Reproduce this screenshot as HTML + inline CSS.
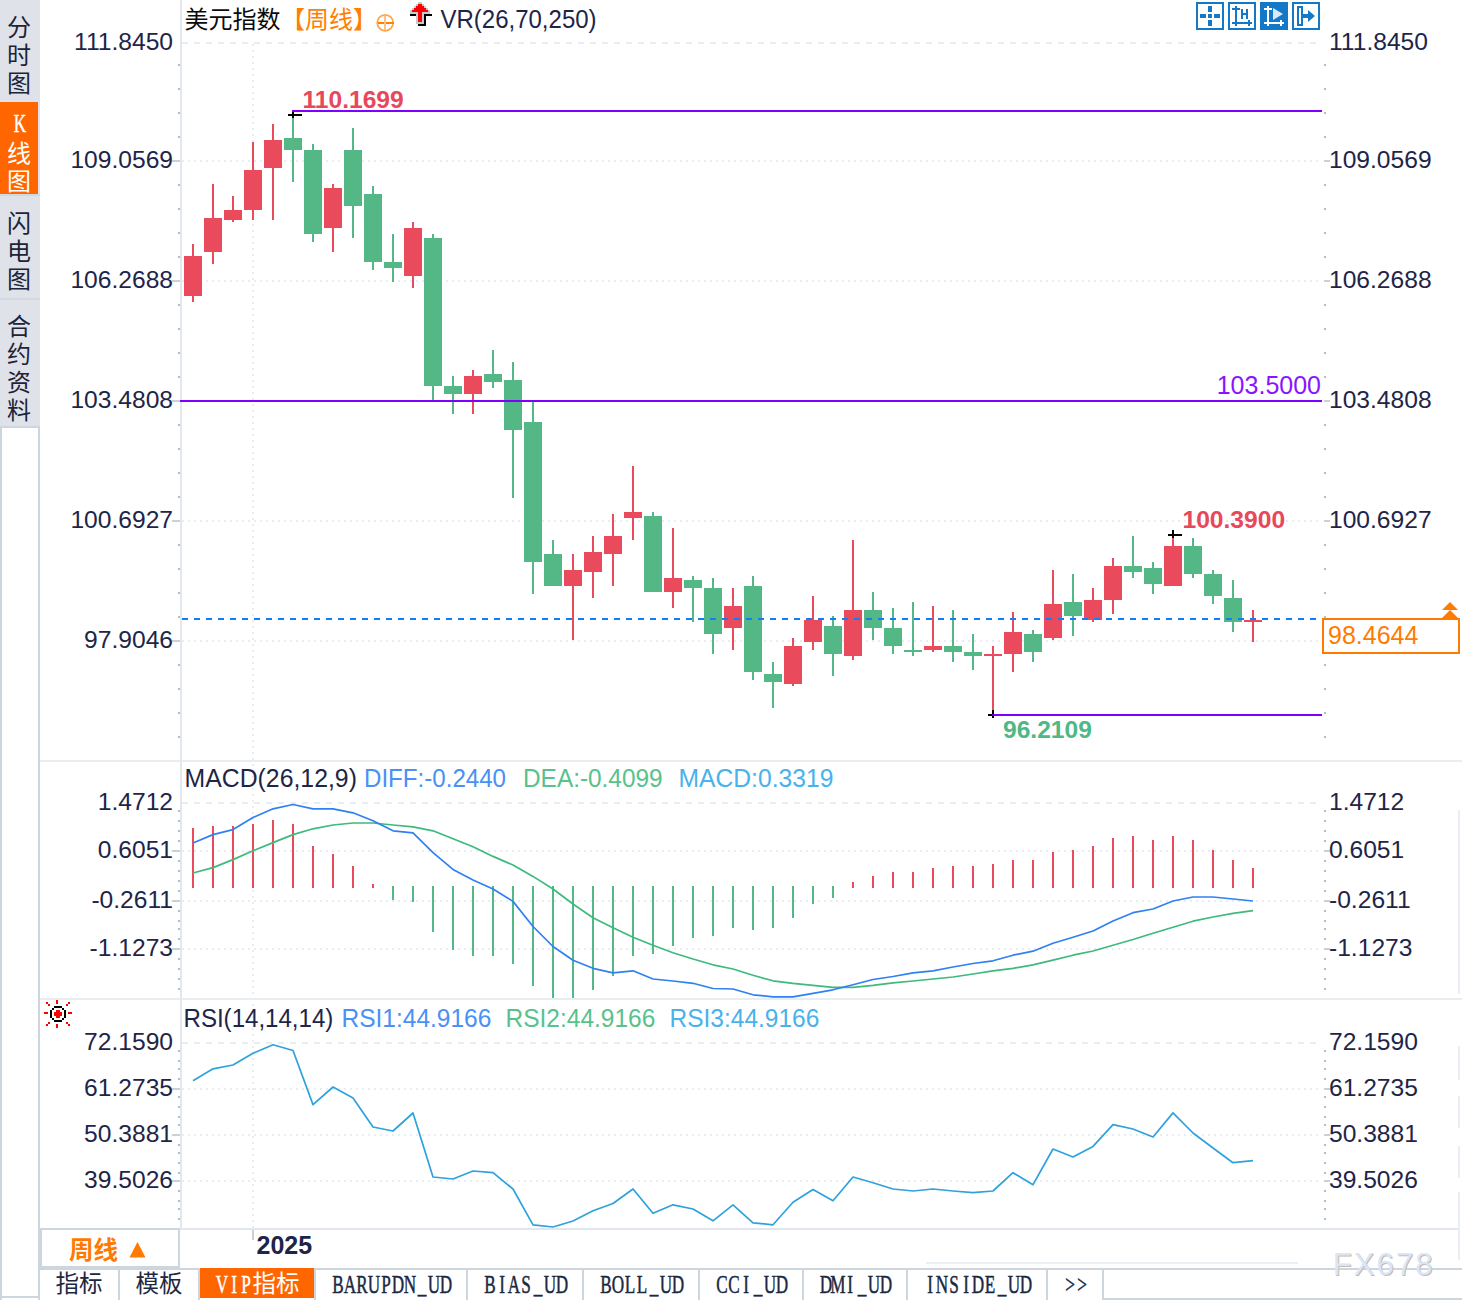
<!DOCTYPE html>
<html><head><meta charset="utf-8"><title>chart</title>
<style>html,body{margin:0;padding:0;background:#fff;}body{width:1462px;height:1300px;overflow:hidden;font-family:"Liberation Sans",sans-serif;}svg{display:block;}</style>
</head><body>
<svg width="1462" height="1300" viewBox="0 0 1462 1300" font-family="Liberation Sans, sans-serif">
<g shape-rendering="crispEdges">
<rect x="0" y="0" width="1462" height="1300" fill="#ffffff"/>
<rect x="0" y="0" width="40" height="426" fill="#e0e2ea"/>
<rect x="0" y="102" width="38" height="92" fill="#ff6600"/>
<rect x="0" y="194" width="40" height="2" fill="#d0d8e2"/>
<rect x="0" y="298" width="40" height="2" fill="#d0d8e2"/>
<rect x="0" y="426" width="2" height="874" fill="#cdd5df"/>
<rect x="38" y="426" width="2" height="874" fill="#cdd5df"/>
<rect x="0" y="426" width="40" height="2" fill="#cdd5df"/>
<rect x="0" y="1296" width="40" height="2" fill="#cdd5df"/>
<rect x="40" y="760" width="1422" height="2" fill="#e8edf2"/>
<rect x="40" y="998" width="1422" height="2" fill="#e8edf2"/>
<rect x="40" y="1228" width="1420" height="2" fill="#e1e7ed"/>
<rect x="180" y="0" width="2" height="1228" fill="#e2e8ee"/>
<rect x="1458" y="810" width="2" height="184" fill="#e8eef3"/>
<rect x="1458" y="1046" width="2" height="34" fill="#e8eef3"/>
<rect x="1458" y="1096" width="2" height="32" fill="#e8eef3"/>
<rect x="1458" y="1146" width="2" height="32" fill="#e8eef3"/>
<rect x="1458" y="1192" width="2" height="68" fill="#e8eef3"/>
<line x1="182" y1="43" x2="1322" y2="43" stroke="#e8edf2" stroke-width="2" stroke-dasharray="6 6"/>
<line x1="182" y1="161" x2="1322" y2="161" stroke="#e8edf2" stroke-width="2" stroke-dasharray="2 4"/>
<line x1="182" y1="281" x2="1322" y2="281" stroke="#e8edf2" stroke-width="2" stroke-dasharray="2 4"/>
<line x1="182" y1="401" x2="1322" y2="401" stroke="#e8edf2" stroke-width="2" stroke-dasharray="2 4"/>
<line x1="182" y1="521" x2="1322" y2="521" stroke="#e8edf2" stroke-width="2" stroke-dasharray="2 4"/>
<line x1="182" y1="641" x2="1322" y2="641" stroke="#e8edf2" stroke-width="2" stroke-dasharray="2 4"/>
<line x1="253" y1="44" x2="253" y2="1228" stroke="#e8edf2" stroke-width="2" stroke-dasharray="2 4"/>
<rect x="252" y="1230" width="2" height="10" fill="#c8d0da"/>
<line x1="182" y1="803" x2="1322" y2="803" stroke="#e8edf2" stroke-width="2" stroke-dasharray="6 6"/>
<line x1="182" y1="851" x2="1322" y2="851" stroke="#e8edf2" stroke-width="2" stroke-dasharray="2 4"/>
<line x1="182" y1="901" x2="1322" y2="901" stroke="#e8edf2" stroke-width="2" stroke-dasharray="2 4"/>
<line x1="182" y1="949" x2="1322" y2="949" stroke="#e8edf2" stroke-width="2" stroke-dasharray="2 4"/>
<line x1="182" y1="1043" x2="1322" y2="1043" stroke="#e8edf2" stroke-width="2" stroke-dasharray="6 6"/>
<line x1="182" y1="1089" x2="1322" y2="1089" stroke="#e8edf2" stroke-width="2" stroke-dasharray="2 4"/>
<line x1="182" y1="1135" x2="1322" y2="1135" stroke="#e8edf2" stroke-width="2" stroke-dasharray="2 4"/>
<line x1="182" y1="1181" x2="1322" y2="1181" stroke="#e8edf2" stroke-width="2" stroke-dasharray="2 4"/>
<rect x="178" y="64" width="2" height="2" fill="#b4bec8"/>
<rect x="1324" y="64" width="2" height="2" fill="#b4bec8"/>
<rect x="178" y="88" width="2" height="2" fill="#b4bec8"/>
<rect x="1324" y="88" width="2" height="2" fill="#b4bec8"/>
<rect x="178" y="112" width="2" height="2" fill="#b4bec8"/>
<rect x="1324" y="112" width="2" height="2" fill="#b4bec8"/>
<rect x="178" y="136" width="2" height="2" fill="#b4bec8"/>
<rect x="1324" y="136" width="2" height="2" fill="#b4bec8"/>
<rect x="172" y="160" width="8" height="2" fill="#c9d1d9"/>
<rect x="1324" y="160" width="6" height="2" fill="#c9d1d9"/>
<rect x="178" y="184" width="2" height="2" fill="#b4bec8"/>
<rect x="1324" y="184" width="2" height="2" fill="#b4bec8"/>
<rect x="178" y="208" width="2" height="2" fill="#b4bec8"/>
<rect x="1324" y="208" width="2" height="2" fill="#b4bec8"/>
<rect x="178" y="232" width="2" height="2" fill="#b4bec8"/>
<rect x="1324" y="232" width="2" height="2" fill="#b4bec8"/>
<rect x="178" y="256" width="2" height="2" fill="#b4bec8"/>
<rect x="1324" y="256" width="2" height="2" fill="#b4bec8"/>
<rect x="172" y="280" width="8" height="2" fill="#c9d1d9"/>
<rect x="1324" y="280" width="6" height="2" fill="#c9d1d9"/>
<rect x="178" y="304" width="2" height="2" fill="#b4bec8"/>
<rect x="1324" y="304" width="2" height="2" fill="#b4bec8"/>
<rect x="178" y="328" width="2" height="2" fill="#b4bec8"/>
<rect x="1324" y="328" width="2" height="2" fill="#b4bec8"/>
<rect x="178" y="352" width="2" height="2" fill="#b4bec8"/>
<rect x="1324" y="352" width="2" height="2" fill="#b4bec8"/>
<rect x="178" y="376" width="2" height="2" fill="#b4bec8"/>
<rect x="1324" y="376" width="2" height="2" fill="#b4bec8"/>
<rect x="172" y="400" width="8" height="2" fill="#c9d1d9"/>
<rect x="1324" y="400" width="6" height="2" fill="#c9d1d9"/>
<rect x="178" y="424" width="2" height="2" fill="#b4bec8"/>
<rect x="1324" y="424" width="2" height="2" fill="#b4bec8"/>
<rect x="178" y="448" width="2" height="2" fill="#b4bec8"/>
<rect x="1324" y="448" width="2" height="2" fill="#b4bec8"/>
<rect x="178" y="472" width="2" height="2" fill="#b4bec8"/>
<rect x="1324" y="472" width="2" height="2" fill="#b4bec8"/>
<rect x="178" y="496" width="2" height="2" fill="#b4bec8"/>
<rect x="1324" y="496" width="2" height="2" fill="#b4bec8"/>
<rect x="172" y="520" width="8" height="2" fill="#c9d1d9"/>
<rect x="1324" y="520" width="6" height="2" fill="#c9d1d9"/>
<rect x="178" y="544" width="2" height="2" fill="#b4bec8"/>
<rect x="1324" y="544" width="2" height="2" fill="#b4bec8"/>
<rect x="178" y="568" width="2" height="2" fill="#b4bec8"/>
<rect x="1324" y="568" width="2" height="2" fill="#b4bec8"/>
<rect x="178" y="592" width="2" height="2" fill="#b4bec8"/>
<rect x="1324" y="592" width="2" height="2" fill="#b4bec8"/>
<rect x="178" y="616" width="2" height="2" fill="#b4bec8"/>
<rect x="1324" y="616" width="2" height="2" fill="#b4bec8"/>
<rect x="172" y="640" width="8" height="2" fill="#c9d1d9"/>
<rect x="1324" y="640" width="6" height="2" fill="#c9d1d9"/>
<rect x="178" y="664" width="2" height="2" fill="#b4bec8"/>
<rect x="1324" y="664" width="2" height="2" fill="#b4bec8"/>
<rect x="178" y="688" width="2" height="2" fill="#b4bec8"/>
<rect x="1324" y="688" width="2" height="2" fill="#b4bec8"/>
<rect x="178" y="712" width="2" height="2" fill="#b4bec8"/>
<rect x="1324" y="712" width="2" height="2" fill="#b4bec8"/>
<rect x="178" y="736" width="2" height="2" fill="#b4bec8"/>
<rect x="1324" y="736" width="2" height="2" fill="#b4bec8"/>
<rect x="178" y="810" width="2" height="2" fill="#b4bec8"/>
<rect x="1324" y="810" width="2" height="2" fill="#b4bec8"/>
<rect x="178" y="820" width="2" height="2" fill="#b4bec8"/>
<rect x="1324" y="820" width="2" height="2" fill="#b4bec8"/>
<rect x="178" y="830" width="2" height="2" fill="#b4bec8"/>
<rect x="1324" y="830" width="2" height="2" fill="#b4bec8"/>
<rect x="178" y="840" width="2" height="2" fill="#b4bec8"/>
<rect x="1324" y="840" width="2" height="2" fill="#b4bec8"/>
<rect x="172" y="850" width="8" height="2" fill="#c9d1d9"/>
<rect x="1324" y="850" width="6" height="2" fill="#c9d1d9"/>
<rect x="178" y="860" width="2" height="2" fill="#b4bec8"/>
<rect x="1324" y="860" width="2" height="2" fill="#b4bec8"/>
<rect x="178" y="870" width="2" height="2" fill="#b4bec8"/>
<rect x="1324" y="870" width="2" height="2" fill="#b4bec8"/>
<rect x="178" y="880" width="2" height="2" fill="#b4bec8"/>
<rect x="1324" y="880" width="2" height="2" fill="#b4bec8"/>
<rect x="178" y="890" width="2" height="2" fill="#b4bec8"/>
<rect x="1324" y="890" width="2" height="2" fill="#b4bec8"/>
<rect x="172" y="900" width="8" height="2" fill="#c9d1d9"/>
<rect x="1324" y="900" width="6" height="2" fill="#c9d1d9"/>
<rect x="178" y="910" width="2" height="2" fill="#b4bec8"/>
<rect x="1324" y="910" width="2" height="2" fill="#b4bec8"/>
<rect x="178" y="920" width="2" height="2" fill="#b4bec8"/>
<rect x="1324" y="920" width="2" height="2" fill="#b4bec8"/>
<rect x="178" y="928" width="2" height="2" fill="#b4bec8"/>
<rect x="1324" y="928" width="2" height="2" fill="#b4bec8"/>
<rect x="178" y="938" width="2" height="2" fill="#b4bec8"/>
<rect x="1324" y="938" width="2" height="2" fill="#b4bec8"/>
<rect x="172" y="948" width="8" height="2" fill="#c9d1d9"/>
<rect x="1324" y="948" width="6" height="2" fill="#c9d1d9"/>
<rect x="178" y="958" width="2" height="2" fill="#b4bec8"/>
<rect x="1324" y="958" width="2" height="2" fill="#b4bec8"/>
<rect x="178" y="968" width="2" height="2" fill="#b4bec8"/>
<rect x="1324" y="968" width="2" height="2" fill="#b4bec8"/>
<rect x="178" y="978" width="2" height="2" fill="#b4bec8"/>
<rect x="1324" y="978" width="2" height="2" fill="#b4bec8"/>
<rect x="178" y="988" width="2" height="2" fill="#b4bec8"/>
<rect x="1324" y="988" width="2" height="2" fill="#b4bec8"/>
<rect x="178" y="1050" width="2" height="2" fill="#b4bec8"/>
<rect x="1324" y="1050" width="2" height="2" fill="#b4bec8"/>
<rect x="178" y="1060" width="2" height="2" fill="#b4bec8"/>
<rect x="1324" y="1060" width="2" height="2" fill="#b4bec8"/>
<rect x="178" y="1068" width="2" height="2" fill="#b4bec8"/>
<rect x="1324" y="1068" width="2" height="2" fill="#b4bec8"/>
<rect x="178" y="1078" width="2" height="2" fill="#b4bec8"/>
<rect x="1324" y="1078" width="2" height="2" fill="#b4bec8"/>
<rect x="172" y="1088" width="8" height="2" fill="#c9d1d9"/>
<rect x="1324" y="1088" width="6" height="2" fill="#c9d1d9"/>
<rect x="178" y="1096" width="2" height="2" fill="#b4bec8"/>
<rect x="1324" y="1096" width="2" height="2" fill="#b4bec8"/>
<rect x="178" y="1106" width="2" height="2" fill="#b4bec8"/>
<rect x="1324" y="1106" width="2" height="2" fill="#b4bec8"/>
<rect x="178" y="1116" width="2" height="2" fill="#b4bec8"/>
<rect x="1324" y="1116" width="2" height="2" fill="#b4bec8"/>
<rect x="178" y="1124" width="2" height="2" fill="#b4bec8"/>
<rect x="1324" y="1124" width="2" height="2" fill="#b4bec8"/>
<rect x="172" y="1134" width="8" height="2" fill="#c9d1d9"/>
<rect x="1324" y="1134" width="6" height="2" fill="#c9d1d9"/>
<rect x="178" y="1144" width="2" height="2" fill="#b4bec8"/>
<rect x="1324" y="1144" width="2" height="2" fill="#b4bec8"/>
<rect x="178" y="1152" width="2" height="2" fill="#b4bec8"/>
<rect x="1324" y="1152" width="2" height="2" fill="#b4bec8"/>
<rect x="178" y="1162" width="2" height="2" fill="#b4bec8"/>
<rect x="1324" y="1162" width="2" height="2" fill="#b4bec8"/>
<rect x="178" y="1172" width="2" height="2" fill="#b4bec8"/>
<rect x="1324" y="1172" width="2" height="2" fill="#b4bec8"/>
<rect x="172" y="1180" width="8" height="2" fill="#c9d1d9"/>
<rect x="1324" y="1180" width="6" height="2" fill="#c9d1d9"/>
<rect x="178" y="1190" width="2" height="2" fill="#b4bec8"/>
<rect x="1324" y="1190" width="2" height="2" fill="#b4bec8"/>
<rect x="178" y="1200" width="2" height="2" fill="#b4bec8"/>
<rect x="1324" y="1200" width="2" height="2" fill="#b4bec8"/>
<rect x="178" y="1208" width="2" height="2" fill="#b4bec8"/>
<rect x="1324" y="1208" width="2" height="2" fill="#b4bec8"/>
<rect x="178" y="1218" width="2" height="2" fill="#b4bec8"/>
<rect x="1324" y="1218" width="2" height="2" fill="#b4bec8"/>
<rect x="192" y="244" width="2" height="58" fill="#e94b5c"/>
<rect x="184" y="256" width="18" height="40" fill="#e94b5c"/>
<rect x="212" y="184" width="2" height="80" fill="#e94b5c"/>
<rect x="204" y="218" width="18" height="34" fill="#e94b5c"/>
<rect x="232" y="196" width="2" height="26" fill="#e94b5c"/>
<rect x="224" y="210" width="18" height="10" fill="#e94b5c"/>
<rect x="252" y="142" width="2" height="78" fill="#e94b5c"/>
<rect x="244" y="170" width="18" height="40" fill="#e94b5c"/>
<rect x="272" y="124" width="2" height="96" fill="#e94b5c"/>
<rect x="264" y="140" width="18" height="28" fill="#e94b5c"/>
<rect x="292" y="118" width="2" height="64" fill="#53b886"/>
<rect x="284" y="138" width="18" height="12" fill="#53b886"/>
<rect x="312" y="144" width="2" height="98" fill="#53b886"/>
<rect x="304" y="150" width="18" height="84" fill="#53b886"/>
<rect x="332" y="184" width="2" height="68" fill="#e94b5c"/>
<rect x="324" y="188" width="18" height="40" fill="#e94b5c"/>
<rect x="352" y="128" width="2" height="110" fill="#53b886"/>
<rect x="344" y="150" width="18" height="56" fill="#53b886"/>
<rect x="372" y="186" width="2" height="84" fill="#53b886"/>
<rect x="364" y="194" width="18" height="68" fill="#53b886"/>
<rect x="392" y="234" width="2" height="48" fill="#53b886"/>
<rect x="384" y="262" width="18" height="6" fill="#53b886"/>
<rect x="412" y="222" width="2" height="66" fill="#e94b5c"/>
<rect x="404" y="228" width="18" height="48" fill="#e94b5c"/>
<rect x="432" y="234" width="2" height="166" fill="#53b886"/>
<rect x="424" y="238" width="18" height="148" fill="#53b886"/>
<rect x="452" y="376" width="2" height="38" fill="#53b886"/>
<rect x="444" y="386" width="18" height="8" fill="#53b886"/>
<rect x="472" y="370" width="2" height="44" fill="#e94b5c"/>
<rect x="464" y="376" width="18" height="18" fill="#e94b5c"/>
<rect x="492" y="350" width="2" height="38" fill="#53b886"/>
<rect x="484" y="374" width="18" height="8" fill="#53b886"/>
<rect x="512" y="362" width="2" height="136" fill="#53b886"/>
<rect x="504" y="380" width="18" height="50" fill="#53b886"/>
<rect x="532" y="402" width="2" height="192" fill="#53b886"/>
<rect x="524" y="422" width="18" height="140" fill="#53b886"/>
<rect x="552" y="540" width="2" height="46" fill="#53b886"/>
<rect x="544" y="554" width="18" height="32" fill="#53b886"/>
<rect x="572" y="554" width="2" height="86" fill="#e94b5c"/>
<rect x="564" y="570" width="18" height="16" fill="#e94b5c"/>
<rect x="592" y="536" width="2" height="62" fill="#e94b5c"/>
<rect x="584" y="552" width="18" height="20" fill="#e94b5c"/>
<rect x="612" y="514" width="2" height="72" fill="#e94b5c"/>
<rect x="604" y="536" width="18" height="18" fill="#e94b5c"/>
<rect x="632" y="466" width="2" height="74" fill="#e94b5c"/>
<rect x="624" y="512" width="18" height="6" fill="#e94b5c"/>
<rect x="652" y="512" width="2" height="80" fill="#53b886"/>
<rect x="644" y="516" width="18" height="76" fill="#53b886"/>
<rect x="672" y="528" width="2" height="80" fill="#e94b5c"/>
<rect x="664" y="578" width="18" height="14" fill="#e94b5c"/>
<rect x="692" y="576" width="2" height="46" fill="#53b886"/>
<rect x="684" y="580" width="18" height="8" fill="#53b886"/>
<rect x="712" y="578" width="2" height="76" fill="#53b886"/>
<rect x="704" y="588" width="18" height="46" fill="#53b886"/>
<rect x="732" y="588" width="2" height="62" fill="#e94b5c"/>
<rect x="724" y="606" width="18" height="22" fill="#e94b5c"/>
<rect x="752" y="576" width="2" height="104" fill="#53b886"/>
<rect x="744" y="586" width="18" height="86" fill="#53b886"/>
<rect x="772" y="662" width="2" height="46" fill="#53b886"/>
<rect x="764" y="674" width="18" height="8" fill="#53b886"/>
<rect x="792" y="638" width="2" height="48" fill="#e94b5c"/>
<rect x="784" y="646" width="18" height="38" fill="#e94b5c"/>
<rect x="812" y="596" width="2" height="54" fill="#e94b5c"/>
<rect x="804" y="620" width="18" height="22" fill="#e94b5c"/>
<rect x="832" y="616" width="2" height="60" fill="#53b886"/>
<rect x="824" y="626" width="18" height="28" fill="#53b886"/>
<rect x="852" y="540" width="2" height="120" fill="#e94b5c"/>
<rect x="844" y="610" width="18" height="46" fill="#e94b5c"/>
<rect x="872" y="592" width="2" height="48" fill="#53b886"/>
<rect x="864" y="610" width="18" height="18" fill="#53b886"/>
<rect x="892" y="608" width="2" height="46" fill="#53b886"/>
<rect x="884" y="628" width="18" height="18" fill="#53b886"/>
<rect x="912" y="602" width="2" height="54" fill="#53b886"/>
<rect x="904" y="650" width="18" height="2" fill="#53b886"/>
<rect x="932" y="606" width="2" height="46" fill="#e94b5c"/>
<rect x="924" y="646" width="18" height="4" fill="#e94b5c"/>
<rect x="952" y="610" width="2" height="52" fill="#53b886"/>
<rect x="944" y="646" width="18" height="6" fill="#53b886"/>
<rect x="972" y="634" width="2" height="36" fill="#53b886"/>
<rect x="964" y="652" width="18" height="4" fill="#53b886"/>
<rect x="992" y="646" width="2" height="64" fill="#e94b5c"/>
<rect x="984" y="654" width="18" height="2" fill="#e94b5c"/>
<rect x="1012" y="612" width="2" height="60" fill="#e94b5c"/>
<rect x="1004" y="632" width="18" height="22" fill="#e94b5c"/>
<rect x="1032" y="630" width="2" height="32" fill="#53b886"/>
<rect x="1024" y="634" width="18" height="18" fill="#53b886"/>
<rect x="1052" y="570" width="2" height="70" fill="#e94b5c"/>
<rect x="1044" y="604" width="18" height="34" fill="#e94b5c"/>
<rect x="1072" y="574" width="2" height="62" fill="#53b886"/>
<rect x="1064" y="602" width="18" height="14" fill="#53b886"/>
<rect x="1092" y="588" width="2" height="34" fill="#e94b5c"/>
<rect x="1084" y="600" width="18" height="20" fill="#e94b5c"/>
<rect x="1112" y="558" width="2" height="56" fill="#e94b5c"/>
<rect x="1104" y="566" width="18" height="34" fill="#e94b5c"/>
<rect x="1132" y="536" width="2" height="42" fill="#53b886"/>
<rect x="1124" y="566" width="18" height="6" fill="#53b886"/>
<rect x="1152" y="562" width="2" height="32" fill="#53b886"/>
<rect x="1144" y="568" width="18" height="16" fill="#53b886"/>
<rect x="1172" y="538" width="2" height="48" fill="#e94b5c"/>
<rect x="1164" y="546" width="18" height="40" fill="#e94b5c"/>
<rect x="1192" y="538" width="2" height="40" fill="#53b886"/>
<rect x="1184" y="546" width="18" height="28" fill="#53b886"/>
<rect x="1212" y="570" width="2" height="34" fill="#53b886"/>
<rect x="1204" y="574" width="18" height="22" fill="#53b886"/>
<rect x="1232" y="580" width="2" height="52" fill="#53b886"/>
<rect x="1224" y="598" width="18" height="24" fill="#53b886"/>
<rect x="1252" y="610" width="2" height="32" fill="#e94b5c"/>
<rect x="1244" y="620" width="18" height="2" fill="#e94b5c"/>
<rect x="292" y="110" width="1030" height="2" fill="#8000ff"/>
<rect x="180" y="400" width="1142" height="2" fill="#8000ff"/>
<rect x="992" y="714" width="330" height="2" fill="#8000ff"/>
<line x1="182" y1="619" x2="1318" y2="619" stroke="#0f7dff" stroke-width="2" stroke-dasharray="6 6"/>
<rect x="288" y="114" width="14" height="2" fill="#000"/>
<rect x="292" y="112" width="2" height="6" fill="#000"/>
<rect x="1168" y="534" width="14" height="2" fill="#000"/>
<rect x="1172" y="530" width="2" height="8" fill="#000"/>
<rect x="988" y="714" width="4" height="2" fill="#000"/>
<rect x="992" y="710" width="2" height="8" fill="#000"/>
<rect x="992" y="714" width="2" height="2" fill="#5a00b4"/>
<rect x="192" y="828" width="2" height="60" fill="#e94b5c"/>
<rect x="212" y="826" width="2" height="62" fill="#e94b5c"/>
<rect x="232" y="826" width="2" height="62" fill="#e94b5c"/>
<rect x="252" y="824" width="2" height="64" fill="#e94b5c"/>
<rect x="272" y="820" width="2" height="68" fill="#e94b5c"/>
<rect x="292" y="824" width="2" height="64" fill="#e94b5c"/>
<rect x="312" y="846" width="2" height="42" fill="#e94b5c"/>
<rect x="332" y="854" width="2" height="34" fill="#e94b5c"/>
<rect x="352" y="866" width="2" height="22" fill="#e94b5c"/>
<rect x="372" y="884" width="2" height="4" fill="#e94b5c"/>
<rect x="392" y="886" width="2" height="14" fill="#53b886"/>
<rect x="412" y="886" width="2" height="16" fill="#53b886"/>
<rect x="432" y="886" width="2" height="46" fill="#53b886"/>
<rect x="452" y="886" width="2" height="64" fill="#53b886"/>
<rect x="472" y="886" width="2" height="70" fill="#53b886"/>
<rect x="492" y="886" width="2" height="70" fill="#53b886"/>
<rect x="512" y="886" width="2" height="78" fill="#53b886"/>
<rect x="532" y="886" width="2" height="100" fill="#53b886"/>
<rect x="552" y="886" width="2" height="112" fill="#53b886"/>
<rect x="572" y="886" width="2" height="112" fill="#53b886"/>
<rect x="592" y="886" width="2" height="104" fill="#53b886"/>
<rect x="612" y="886" width="2" height="90" fill="#53b886"/>
<rect x="632" y="886" width="2" height="70" fill="#53b886"/>
<rect x="652" y="886" width="2" height="68" fill="#53b886"/>
<rect x="672" y="886" width="2" height="60" fill="#53b886"/>
<rect x="692" y="886" width="2" height="52" fill="#53b886"/>
<rect x="712" y="886" width="2" height="50" fill="#53b886"/>
<rect x="732" y="886" width="2" height="42" fill="#53b886"/>
<rect x="752" y="886" width="2" height="44" fill="#53b886"/>
<rect x="772" y="886" width="2" height="42" fill="#53b886"/>
<rect x="792" y="886" width="2" height="32" fill="#53b886"/>
<rect x="812" y="886" width="2" height="18" fill="#53b886"/>
<rect x="832" y="886" width="2" height="12" fill="#53b886"/>
<rect x="852" y="882" width="2" height="6" fill="#e94b5c"/>
<rect x="872" y="876" width="2" height="12" fill="#e94b5c"/>
<rect x="892" y="872" width="2" height="16" fill="#e94b5c"/>
<rect x="912" y="872" width="2" height="16" fill="#e94b5c"/>
<rect x="932" y="868" width="2" height="20" fill="#e94b5c"/>
<rect x="952" y="866" width="2" height="22" fill="#e94b5c"/>
<rect x="972" y="866" width="2" height="22" fill="#e94b5c"/>
<rect x="992" y="864" width="2" height="24" fill="#e94b5c"/>
<rect x="1012" y="860" width="2" height="28" fill="#e94b5c"/>
<rect x="1032" y="860" width="2" height="28" fill="#e94b5c"/>
<rect x="1052" y="852" width="2" height="36" fill="#e94b5c"/>
<rect x="1072" y="850" width="2" height="38" fill="#e94b5c"/>
<rect x="1092" y="846" width="2" height="42" fill="#e94b5c"/>
<rect x="1112" y="838" width="2" height="50" fill="#e94b5c"/>
<rect x="1132" y="836" width="2" height="52" fill="#e94b5c"/>
<rect x="1152" y="840" width="2" height="48" fill="#e94b5c"/>
<rect x="1172" y="836" width="2" height="52" fill="#e94b5c"/>
<rect x="1192" y="840" width="2" height="48" fill="#e94b5c"/>
<rect x="1212" y="850" width="2" height="38" fill="#e94b5c"/>
<rect x="1232" y="860" width="2" height="28" fill="#e94b5c"/>
<rect x="1252" y="868" width="2" height="20" fill="#e94b5c"/>
<rect x="1322" y="618" width="138" height="36" fill="#ff7a00"/>
<rect x="1324" y="620" width="134" height="32" fill="#fff"/>
</g>
<polyline points="193,873 213,867.6 233,859.6 253,850.8 273,842.6 293,834.6 313,828.8 333,825 353,823 373,823 393,825 413,826.8 433,830.8 453,838.8 473,846.8 493,856.4 513,865 533,876.4 553,889 573,904 593,917.7 613,927.7 633,937.2 653,945.2 673,952.7 693,959 713,964.8 733,969 753,975.3 773,980.8 793,983.3 813,985.3 833,987.3 853,987.3 873,985.3 893,982.8 913,981 933,979 953,977 973,974 993,970.8 1013,968.3 1033,964.8 1053,960.2 1073,955.2 1093,951 1113,945.2 1133,939.5 1153,933.2 1173,927.2 1193,921.2 1213,917 1233,913.4 1253,910.7" fill="none" stroke="#3dba7c" stroke-width="1.7" stroke-linejoin="round"/>
<polyline points="193,843 213,834.6 233,829.6 253,817.5 273,808.8 293,804.5 313,808.8 333,808.8 353,812.8 373,820.8 393,830.8 413,832.8 433,852.6 453,869.4 473,880 493,889 513,901.4 533,926.5 553,946.5 573,960.2 593,968.3 613,972.8 633,970.8 653,979 673,981 693,983.3 713,988.5 733,989 753,994.8 773,996.8 793,996.8 813,993.3 833,989.8 853,984.8 873,979.5 893,976.5 913,972.8 933,970.8 953,967 973,963.5 993,960.8 1013,955.2 1033,951.2 1053,943.2 1073,937.2 1093,931 1113,921 1133,912.7 1153,909 1173,901 1193,897 1213,897 1233,899 1253,901" fill="none" stroke="#2f80f2" stroke-width="1.7" stroke-linejoin="round"/>
<polyline points="193,1080.8 213,1068.8 233,1065 253,1053.3 273,1044.8 293,1050.5 313,1104.6 333,1087 353,1098 373,1127 393,1131 413,1113 433,1177 453,1179 473,1171 493,1172.7 513,1189 533,1224.8 553,1227 573,1221 593,1210.8 613,1203.5 633,1189 653,1213.3 673,1204.8 693,1209 713,1220.8 733,1204.8 753,1222.8 773,1224.8 793,1202.3 813,1189.5 833,1200.8 853,1177 873,1182.7 893,1189 913,1191 933,1189 953,1191 973,1192.7 993,1191 1013,1172.7 1033,1184.7 1053,1149 1073,1157 1093,1146.4 1113,1124.6 1133,1129 1153,1137 1173,1112.9 1193,1133 1213,1148 1233,1162.7 1253,1160.7" fill="none" stroke="#2ea2dc" stroke-width="1.7" stroke-linejoin="round"/>
<path fill="#ff7a00" d="M1450 602l8 8h-16zM1450 610l8 8h-16z"/>
<text x="173" y="50" font-size="24.6" fill="#1e2548" text-anchor="end">111.8450</text>
<text x="1329" y="50" font-size="24.6" fill="#1e2548">111.8450</text>
<text x="173" y="168" font-size="24.6" fill="#1e2548" text-anchor="end">109.0569</text>
<text x="1329" y="168" font-size="24.6" fill="#1e2548">109.0569</text>
<text x="173" y="288" font-size="24.6" fill="#1e2548" text-anchor="end">106.2688</text>
<text x="1329" y="288" font-size="24.6" fill="#1e2548">106.2688</text>
<text x="173" y="408" font-size="24.6" fill="#1e2548" text-anchor="end">103.4808</text>
<text x="1329" y="408" font-size="24.6" fill="#1e2548">103.4808</text>
<text x="173" y="528" font-size="24.6" fill="#1e2548" text-anchor="end">100.6927</text>
<text x="1329" y="528" font-size="24.6" fill="#1e2548">100.6927</text>
<text x="173" y="648" font-size="24.6" fill="#1e2548" text-anchor="end">97.9046</text>
<text x="173" y="810" font-size="24.6" fill="#1e2548" text-anchor="end">1.4712</text>
<text x="1329" y="810" font-size="24.6" fill="#1e2548">1.4712</text>
<text x="173" y="858" font-size="24.6" fill="#1e2548" text-anchor="end">0.6051</text>
<text x="1329" y="858" font-size="24.6" fill="#1e2548">0.6051</text>
<text x="173" y="908" font-size="24.6" fill="#1e2548" text-anchor="end">-0.2611</text>
<text x="1329" y="908" font-size="24.6" fill="#1e2548">-0.2611</text>
<text x="173" y="956" font-size="24.6" fill="#1e2548" text-anchor="end">-1.1273</text>
<text x="1329" y="956" font-size="24.6" fill="#1e2548">-1.1273</text>
<text x="173" y="1050" font-size="24.6" fill="#1e2548" text-anchor="end">72.1590</text>
<text x="1329" y="1050" font-size="24.6" fill="#1e2548">72.1590</text>
<text x="173" y="1096" font-size="24.6" fill="#1e2548" text-anchor="end">61.2735</text>
<text x="1329" y="1096" font-size="24.6" fill="#1e2548">61.2735</text>
<text x="173" y="1142" font-size="24.6" fill="#1e2548" text-anchor="end">50.3881</text>
<text x="1329" y="1142" font-size="24.6" fill="#1e2548">50.3881</text>
<text x="173" y="1188" font-size="24.6" fill="#1e2548" text-anchor="end">39.5026</text>
<text x="1329" y="1188" font-size="24.6" fill="#1e2548">39.5026</text>
<text x="1328" y="644" font-size="25" fill="#ff7a00">98.4644</text>
<text x="302.5" y="107.5" font-size="24.6" fill="#e8485c" font-weight="bold">110.1699</text>
<text x="1182.5" y="527.5" font-size="24.6" fill="#e8485c" font-weight="bold">100.3900</text>
<text x="1003" y="737.5" font-size="24.6" fill="#4fb885" font-weight="bold">96.2109</text>
<text x="1321" y="393.5" font-size="25" fill="#8a14ff" text-anchor="end">103.5000</text>
<text transform="translate(440.5 28) scale(0.96 1)" font-size="25" fill="#1e2548">VR(26,70,250)</text>
<text transform="translate(184.5 787) scale(0.993 1)" font-size="25" fill="#1e2548">MACD(26,12,9)</text>
<text transform="translate(364 787) scale(0.965 1)" font-size="25" fill="#4a90f5">DIFF:-0.2440</text>
<text transform="translate(523 787) scale(0.976 1)" font-size="25" fill="#58c28c">DEA:-0.4099</text>
<text transform="translate(678.5 787) scale(0.987 1)" font-size="25" fill="#48b2ec">MACD:0.3319</text>
<text transform="translate(183.5 1027) scale(0.963 1)" font-size="25" fill="#1e2548">RSI(14,14,14)</text>
<text transform="translate(341.5 1027) scale(0.98 1)" font-size="25" fill="#4a90f5">RSI1:44.9166</text>
<text transform="translate(505.5 1027) scale(0.98 1)" font-size="25" fill="#58c28c">RSI2:44.9166</text>
<text transform="translate(669.5 1027) scale(0.98 1)" font-size="25" fill="#48b2ec">RSI3:44.9166</text>
<text x="256.5" y="1254" font-size="25" fill="#1e2548" font-weight="bold">2025</text>
<text x="184.5" y="28" font-size="24" fill="#0a0a0a" font-family="Liberation Sans, Noto Sans CJK SC, sans-serif">美元指数</text>
<text x="281" y="28" font-size="24" fill="#ff8000" font-family="Liberation Sans, Noto Sans CJK SC, sans-serif">【周线】</text>
<circle cx="385.2" cy="22.8" r="8" fill="none" stroke="#ffa54d" stroke-width="1.7"/>
<g shape-rendering="crispEdges">
<rect x="378" y="22" width="16" height="2" fill="#ff8000"/>
<rect x="384" y="16" width="2" height="14" fill="#ffc080"/>
<rect x="418" y="2" width="4" height="2" fill="#c4cccf"/>
<rect x="416" y="4" width="2" height="2" fill="#c4cccf"/>
<rect x="422" y="4" width="2" height="2" fill="#c4cccf"/>
<rect x="414" y="6" width="2" height="2" fill="#c4cccf"/>
<rect x="424" y="6" width="2" height="2" fill="#c4cccf"/>
<rect x="412" y="8" width="2" height="2" fill="#c4cccf"/>
<rect x="426" y="8" width="2" height="2" fill="#c4cccf"/>
<rect x="410" y="10" width="2" height="4" fill="#c4cccf"/>
<rect x="428" y="10" width="2" height="4" fill="#c4cccf"/>
<rect x="410" y="12" width="20" height="2" fill="#c4cccf"/>
<rect x="416" y="12" width="2" height="12" fill="#c4cccf"/>
<rect x="422" y="12" width="2" height="12" fill="#c4cccf"/>
<rect x="416" y="22" width="8" height="2" fill="#c4cccf"/>
<rect x="418" y="4" width="4" height="2" fill="#ff0000"/>
<rect x="416" y="6" width="8" height="2" fill="#ff0000"/>
<rect x="414" y="8" width="12" height="2" fill="#ff0000"/>
<rect x="412" y="10" width="16" height="2" fill="#ff0000"/>
<rect x="418" y="12" width="4" height="10" fill="#ff0000"/>
<rect x="410" y="14" width="6" height="2" fill="#000"/>
<rect x="424" y="14" width="8" height="2" fill="#000"/>
<rect x="424" y="16" width="2" height="10" fill="#000"/>
<rect x="418" y="24" width="8" height="2" fill="#000"/>
<rect x="1196" y="2" width="28" height="28" fill="#1478c8"/>
<rect x="1198" y="4" width="24" height="24" fill="#fff"/>
<rect x="1228" y="2" width="28" height="28" fill="#1478c8"/>
<rect x="1230" y="4" width="24" height="24" fill="#fff"/>
<rect x="1260" y="2" width="28" height="28" fill="#1478c8"/>
<rect x="1292" y="2" width="28" height="28" fill="#1478c8"/>
<rect x="1294" y="4" width="24" height="24" fill="#fff"/>
<rect x="1208" y="6" width="4" height="6" fill="#1478c8"/>
<rect x="1208" y="20" width="4" height="6" fill="#1478c8"/>
<rect x="1200" y="14" width="6" height="4" fill="#1478c8"/>
<rect x="1214" y="14" width="6" height="4" fill="#1478c8"/>
<rect x="1208" y="14" width="4" height="4" fill="#1478c8"/>
<rect x="1235" y="6" width="2" height="20" fill="#1478c8"/>
<rect x="1232" y="22" width="20" height="2" fill="#1478c8"/>
<rect x="1232" y="8" width="8" height="2" fill="#1478c8"/>
<rect x="1248" y="20" width="2" height="6" fill="#1478c8"/>
<rect x="1241" y="9" width="2" height="10" fill="#1478c8"/>
<rect x="1246" y="9" width="2" height="10" fill="#1478c8"/>
<rect x="1241" y="13" width="7" height="2" fill="#1478c8"/>
<rect x="1267" y="6" width="2" height="20" fill="#fff"/>
<rect x="1264" y="22" width="20" height="2" fill="#fff"/>
<rect x="1264" y="8" width="8" height="2" fill="#fff"/>
<rect x="1280" y="20" width="2" height="6" fill="#fff"/>
</g>
<path fill="#dbe9f6" d="M1273 8l10 6-10 6z"/>
<g shape-rendering="crispEdges">
<rect x="1297" y="6" width="6" height="20" fill="#1478c8"/>
<rect x="1299" y="8" width="2" height="16" fill="#fff"/>
<rect x="1301" y="14" width="2" height="4" fill="#fff"/>
<rect x="1301" y="14" width="9" height="4" fill="#1478c8"/>
</g>
<path fill="#1478c8" d="M1308 10l7 6-7 6z"/>
<g shape-rendering="crispEdges">
<rect x="54" y="1006" width="8" height="2" fill="#000"/>
<rect x="54" y="1020" width="8" height="2" fill="#000"/>
<rect x="50" y="1010" width="2" height="8" fill="#000"/>
<rect x="64" y="1010" width="2" height="8" fill="#000"/>
<rect x="52" y="1008" width="2" height="2" fill="#000"/>
<rect x="62" y="1008" width="2" height="2" fill="#000"/>
<rect x="52" y="1018" width="2" height="2" fill="#000"/>
<rect x="62" y="1018" width="2" height="2" fill="#000"/>
<rect x="54" y="1012" width="8" height="4" fill="#ff0000"/>
<rect x="56" y="1010" width="4" height="8" fill="#ff0000"/>
<rect x="56" y="1000" width="2" height="4" fill="#ff0000"/>
<rect x="56" y="1024" width="2" height="4" fill="#ff0000"/>
<rect x="44" y="1012" width="4" height="2" fill="#ff0000"/>
<rect x="68" y="1012" width="4" height="2" fill="#ff0000"/>
<rect x="46" y="1002" width="2" height="2" fill="#ff0000"/>
<rect x="48" y="1004" width="2" height="2" fill="#ff0000"/>
<rect x="68" y="1002" width="2" height="2" fill="#ff0000"/>
<rect x="66" y="1004" width="2" height="2" fill="#ff0000"/>
<rect x="48" y="1022" width="2" height="2" fill="#ff0000"/>
<rect x="46" y="1024" width="2" height="2" fill="#ff0000"/>
<rect x="66" y="1022" width="2" height="2" fill="#ff0000"/>
<rect x="68" y="1024" width="2" height="2" fill="#ff0000"/>
<rect x="40" y="1266" width="140" height="2" fill="#cdd5df"/>
<rect x="178" y="1230" width="2" height="38" fill="#cdd5df"/>
<rect x="40" y="1228" width="140" height="2" fill="#cdd5df"/>
<rect x="40" y="1230" width="2" height="36" fill="#cdd5df"/>
<rect x="40" y="1268" width="1422" height="2" fill="#cdd5df"/>
<rect x="200" y="1268" width="114" height="30" fill="#ff6600"/>
<rect x="118" y="1270" width="2" height="30" fill="#cdd5df"/>
<rect x="198" y="1270" width="2" height="30" fill="#cdd5df"/>
<rect x="314" y="1270" width="2" height="30" fill="#cdd5df"/>
<rect x="466" y="1270" width="2" height="30" fill="#cdd5df"/>
<rect x="582" y="1270" width="2" height="30" fill="#cdd5df"/>
<rect x="698" y="1270" width="2" height="30" fill="#cdd5df"/>
<rect x="802" y="1270" width="2" height="30" fill="#cdd5df"/>
<rect x="906" y="1270" width="2" height="30" fill="#cdd5df"/>
<rect x="1046" y="1270" width="2" height="30" fill="#cdd5df"/>
<rect x="1102" y="1270" width="2" height="30" fill="#cdd5df"/>
<rect x="1102" y="1298" width="360" height="2" fill="#cdd5df"/>
<rect x="926" y="1262" width="372" height="2" fill="#eaf0f3"/>
</g>
<path fill="#ff7a00" d="M137.5 1242l8 15.5h-16z"/>
<text x="69" y="1259" font-size="24.5" font-weight="bold" fill="#ff7a00" font-family="Liberation Sans, Noto Sans CJK SC, sans-serif">周线</text>
<g font-size="24" fill="#1c2438" text-anchor="middle" font-family="Liberation Sans, Noto Sans CJK SC, sans-serif">
<text x="19" y="35.5">分</text>
<text x="19" y="63.5">时</text>
<text x="19" y="91.5">图</text>
</g>
<g font-size="24" fill="#ffffff" text-anchor="middle" font-family="Liberation Sans, Noto Sans CJK SC, sans-serif">
<text x="19" y="161.5">线</text>
<text x="19" y="189.5">图</text>
</g>
<g font-size="24" fill="#1c2438" text-anchor="middle" font-family="Liberation Sans, Noto Sans CJK SC, sans-serif">
<text x="19" y="231.5">闪</text>
<text x="19" y="259.5">电</text>
<text x="19" y="287.5">图</text>
</g>
<g font-size="24" fill="#1c2438" text-anchor="middle" font-family="Liberation Sans, Noto Sans CJK SC, sans-serif">
<text x="19" y="334.5">合</text>
<text x="19" y="362.5">约</text>
<text x="19" y="390.5">资</text>
<text x="19" y="418.5">料</text>
</g>
<text transform="scale(0.66 1)" x="30.30" y="132" font-size="26" fill="#fff" stroke="#fff" stroke-width="0.5" font-family="Liberation Serif" text-anchor="middle">K</text>
<text x="55.5" y="1292" font-size="23.5" fill="#1c2840" font-family="Liberation Sans, Noto Sans CJK SC, sans-serif">指标</text>
<text x="135.5" y="1292" font-size="23.5" fill="#1c2840" font-family="Liberation Sans, Noto Sans CJK SC, sans-serif">模板</text>
<text x="252.5" y="1292" font-size="23.5" fill="#fff" font-family="Liberation Sans, Noto Sans CJK SC, sans-serif">指标</text>
<text transform="scale(0.66 1)" x="336.36 354.55 372.73" y="1293" font-size="26" fill="#fff" stroke="#fff" stroke-width="0.5" font-family="Liberation Serif" text-anchor="middle">VIP</text>
<text transform="scale(0.66 1)" x="512.12 530.30 548.48 566.67 584.85 603.03 621.21 639.39 657.58 675.76" y="1293" font-size="26" fill="#1c2840" stroke="#1c2840" stroke-width="0.5" font-family="Liberation Serif" text-anchor="middle">BARUPDN_UD</text>
<text transform="scale(0.66 1)" x="742.42 760.61 778.79 796.97 815.15 833.33 851.52" y="1293" font-size="26" fill="#1c2840" stroke="#1c2840" stroke-width="0.5" font-family="Liberation Serif" text-anchor="middle">BIAS_UD</text>
<text transform="scale(0.66 1)" x="918.18 936.36 954.55 972.73 990.91 1009.09 1027.27" y="1293" font-size="26" fill="#1c2840" stroke="#1c2840" stroke-width="0.5" font-family="Liberation Serif" text-anchor="middle">BOLL_UD</text>
<text transform="scale(0.66 1)" x="1093.94 1112.12 1130.30 1148.48 1166.67 1184.85" y="1293" font-size="26" fill="#1c2840" stroke="#1c2840" stroke-width="0.5" font-family="Liberation Serif" text-anchor="middle">CCI_UD</text>
<text transform="scale(0.66 1)" x="1251.52 1269.70 1287.88 1306.06 1324.24 1342.42" y="1293" font-size="26" fill="#1c2840" stroke="#1c2840" stroke-width="0.5" font-family="Liberation Serif" text-anchor="middle">DMI_UD</text>
<text transform="scale(0.66 1)" x="1409.09 1427.27 1445.45 1463.64 1481.82 1500.00 1518.18 1536.36 1554.55" y="1293" font-size="26" fill="#1c2840" stroke="#1c2840" stroke-width="0.5" font-family="Liberation Serif" text-anchor="middle">INSIDE_UD</text>
<text transform="scale(0.66 1)" x="1621.21 1639.39" y="1293" font-size="26" fill="#1c2840" stroke="#1c2840" stroke-width="0.5" font-family="Liberation Serif" text-anchor="middle">&gt;&gt;</text>
<text x="1333.8" y="1276.2" font-size="31" fill="#cbb9ae" letter-spacing="2.1">FX678</text>
<text x="1332.8" y="1275" font-size="31" fill="#d9e6f7" letter-spacing="2.1">FX678</text>
</svg>
</body></html>
